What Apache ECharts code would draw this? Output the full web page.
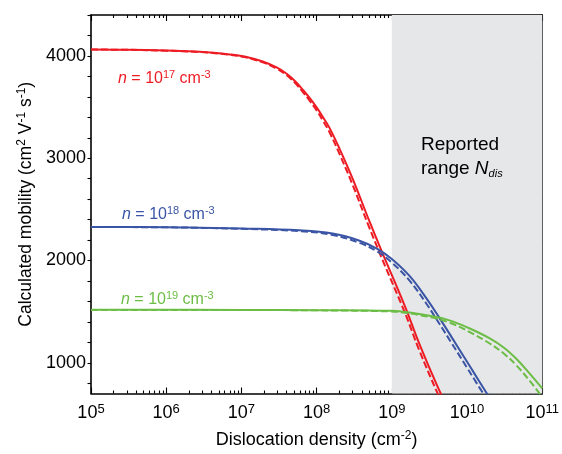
<!DOCTYPE html>
<html>
<head>
<meta charset="utf-8">
<script src="https://cdn.jsdelivr.net/npm/echarts@6/dist/echarts.min.js"></script>
<style>
  html, body { margin: 0; padding: 0; background: #fff; }
  #chart { width: 562px; height: 454px; }
</style>
</head>
<body>
<div id="chart"></div>
<script>
// mobility vs dislocation density, solid and dashed model for three doping levels
var FONT = '"Liberation Sans", Arial, sans-serif';

var red17 = [[1e5, 4062], [3e5, 4060], [1e6, 4052], [2.8e6, 4040], [7e6, 4015], [1.1e7, 3994], [1.92e7, 3945],
  [2.94e7, 3887], [4e7, 3825], [5.26e7, 3748], [6.52e7, 3671], [8.07e7, 3589], [1e8, 3497], [1.24e8, 3391],
  [1.49e8, 3294], [2.02e8, 3092], [3e8, 2803], [5e8, 2389], [7.25e8, 2099], [1.5e9, 1550], [2.3e9, 1193],
  [4.1e9, 759], [5.2e9, 605]];
var red17Dash = [[1e5, 4062], [3e5, 4060], [1e6, 4051], [2.8e6, 4038], [7e6, 4011], [1.1e7, 3989], [1.92e7, 3937],
  [2.94e7, 3876], [4e7, 3811], [5.26e7, 3730], [6.52e7, 3649], [8.07e7, 3563], [1e8, 3467], [1.24e8, 3355],
  [1.49e8, 3252], [2.02e8, 3040], [3e8, 2743], [5e8, 2324], [7.25e8, 2034], [1.5e9, 1485], [2.3e9, 1128],
  [4.1e9, 694], [5.2e9, 540]];

var blue18 = [[1e5, 2328], [1e6, 2326], [2.8e6, 2321], [1e7, 2314], [5.9e7, 2295], [1.63e8, 2263], [3.72e8, 2193],
  [6.5e8, 2112], [1e9, 2015], [1.72e9, 1849], [2.87e9, 1632], [4.27e9, 1442], [6.3e9, 1246], [1e10, 1010],
  [1.26e10, 892], [2e10, 657]];
var blue18Dash = [[1e5, 2327], [1e6, 2325], [2.8e6, 2319], [1e7, 2310], [5.9e7, 2287], [1.63e8, 2250], [3.72e8, 2172],
  [6.5e8, 2085], [1e9, 1980], [1.72e9, 1804], [2.87e9, 1580], [4.27e9, 1384], [6.3e9, 1188], [1e10, 952],
  [1.26e10, 834], [2e10, 599]];

var green19 = [[1e5, 1518], [1e7, 1517], [1e8, 1515], [1e9, 1508], [1.72e9, 1492], [3.16e9, 1460], [5.83e9, 1415],
  [1.07e10, 1338], [1.98e10, 1241], [3.13e10, 1145], [4.52e10, 1039], [6.73e10, 899], [1e11, 749]];
var green19Dash = [[1e5, 1517], [1e7, 1516], [1e8, 1513], [1e9, 1502], [1.72e9, 1483], [3.16e9, 1448], [5.83e9, 1393],
  [1.07e10, 1303], [1.98e10, 1191], [3.13e10, 1087], [4.52e10, 976], [6.73e10, 829], [1e11, 664]];

var reportedRange = [1e9, 1e11];

var xMajor = [1e5, 1e6, 1e7, 1e8, 1e9, 1e10, 1e11];
var xMinor = [];
xMajor.slice(0, -1).forEach(function (d) {
  for (var k = 2; k <= 9; k++) xMinor.push(k * d);
});
var yTicks = [];
for (var v = 800; v <= 4400; v += 200) yTicks.push(v);
var yLabels = [1000, 2000, 3000, 4000];

var RED = '#ed1c24', BLUE = '#3a55a5', GREEN = '#6cbd45';
var axisLine = { show: true, lineStyle: { color: '#000', width: 1.6 } };
var tickStyle = { color: '#000', width: 1.1 };

function xAxisDef(pos, ticks, len, showLine, showLabel) {
  return {
    type: 'log', logBase: 10, min: 1e5, max: 1e11, position: pos,
    axisLine: showLine ? axisLine : { show: false },
    axisTick: { show: true, inside: true, length: len, customValues: ticks, lineStyle: tickStyle },
    axisLabel: showLabel ? {
      customValues: xMajor, margin: 9, fontFamily: FONT, color: '#000',
      formatter: function (val) {
        return '{b|10}{s|' + Math.round(Math.log10(val)) + '}';
      },
      rich: {
        b: { fontSize: 18, fontFamily: FONT, color: '#000' },
        s: { fontSize: 13, fontFamily: FONT, color: '#000', padding: [0, 0, 9, 0] }
      }
    } : { show: false },
    splitLine: { show: false }
  };
}

var xAxes = [
  xAxisDef('bottom', xMajor, 6, true, true),
  xAxisDef('bottom', xMinor, 3, false, false),
  xAxisDef('top', xMajor, 6, true, false),
  xAxisDef('top', xMinor, 3, false, false)
];
xAxes[0].name = 'Dislocation density (cm{s|-2})';
xAxes[0].nameLocation = 'middle';
xAxes[0].nameGap = 36;
xAxes[0].nameTextStyle = {
  fontSize: 18, fontFamily: FONT, color: '#000',
  rich: { s: { fontSize: 12, fontFamily: FONT, color: '#000', padding: [0, 0, 9, 0] } }
};

var chart = echarts.init(document.getElementById('chart'), null, { renderer: 'canvas' });
chart.setOption({
  animation: false,
  backgroundColor: '#fff',
  grid: { left: 91, right: 19, top: 15, bottom: 57, containLabel: false },
  xAxis: xAxes,
  yAxis: [{
    type: 'value', min: 700, max: 4400, position: 'left',
    name: 'Calculated mobility (cm{s|2} V{s|-1} s{s|-1})',
    nameLocation: 'middle', nameGap: 36,
    nameTextStyle: {
      fontSize: 17.5, fontFamily: FONT, color: '#000',
      rich: { s: { fontSize: 12, fontFamily: FONT, color: '#000', padding: [0, 0, 9, 0] } }
    },
    axisLine: axisLine,
    axisTick: { show: true, inside: false, length: 3.5, customValues: yTicks, lineStyle: tickStyle },
    axisLabel: {
      customValues: yLabels, margin: 5, fontSize: 18, fontFamily: FONT, color: '#000',
      formatter: function (val) { return String(val); }
    },
    splitLine: { show: false }
  }, {
    type: 'value', min: 700, max: 4400, position: 'right',
    axisLine: axisLine,
    axisTick: { show: true, inside: true, length: 4, customValues: yTicks, lineStyle: tickStyle },
    axisLabel: { show: false },
    splitLine: { show: false }
  }],
  series: [
    {
      type: 'line', data: [], z: 1, silent: true,
      markArea: {
        silent: true,
        itemStyle: { color: '#e6e7e8' },
        data: [[{ xAxis: reportedRange[0] }, { xAxis: reportedRange[1] }]]
      }
    },
    { type: 'line', data: red17, symbol: 'none', smooth: 0.4, z: 3, lineStyle: { color: RED, width: 2 } },
    { type: 'line', data: red17Dash, symbol: 'none', smooth: 0.4, z: 3, lineStyle: { color: RED, width: 2, type: [7, 3] } },
    { type: 'line', data: blue18, symbol: 'none', smooth: 0.4, z: 3, lineStyle: { color: BLUE, width: 2 } },
    { type: 'line', data: blue18Dash, symbol: 'none', smooth: 0.4, z: 3, lineStyle: { color: BLUE, width: 2, type: [7, 3] } },
    { type: 'line', data: green19, symbol: 'none', smooth: 0.4, z: 3, lineStyle: { color: GREEN, width: 2 } },
    { type: 'line', data: green19Dash, symbol: 'none', smooth: 0.4, z: 3, lineStyle: { color: GREEN, width: 2, type: [7, 3] } }
  ],
  graphic: [
    labelText(118, 79, RED, '17'),
    labelText(122, 215, BLUE, '18'),
    labelText(121, 300, GREEN, '19'),
    {
      type: 'text', left: 421, top: 133, z: 10,
      style: {
        text: '{a|Reported}\n{a|range }{n|N}{d|dis}',
        fontFamily: FONT, fill: '#000', lineHeight: 24,
        rich: {
          a: { fontSize: 19, fontFamily: FONT, fill: '#000', lineHeight: 24 },
          n: { fontSize: 19, fontFamily: FONT, fontStyle: 'italic', fill: '#000', lineHeight: 24 },
          d: { fontSize: 11, fontFamily: FONT, fontStyle: 'italic', fill: '#000', padding: [9, 0, 0, 0] }
        }
      }
    }
  ]
});

function labelText(x, y, color, exp) {
  return {
    type: 'text', x: x, y: y, z: 10,
    style: {
      text: '{i|n} = 10{s|' + exp + '} cm{s|-3}',
      fontSize: 16, fontFamily: FONT, fill: color, verticalAlign: 'middle',
      rich: {
        i: { fontSize: 16, fontFamily: FONT, fontStyle: 'italic', fill: color },
        s: { fontSize: 11, fontFamily: FONT, fill: color, padding: [0, 0, 8, 0] }
      }
    }
  };
}
</script>
</body>
</html>
